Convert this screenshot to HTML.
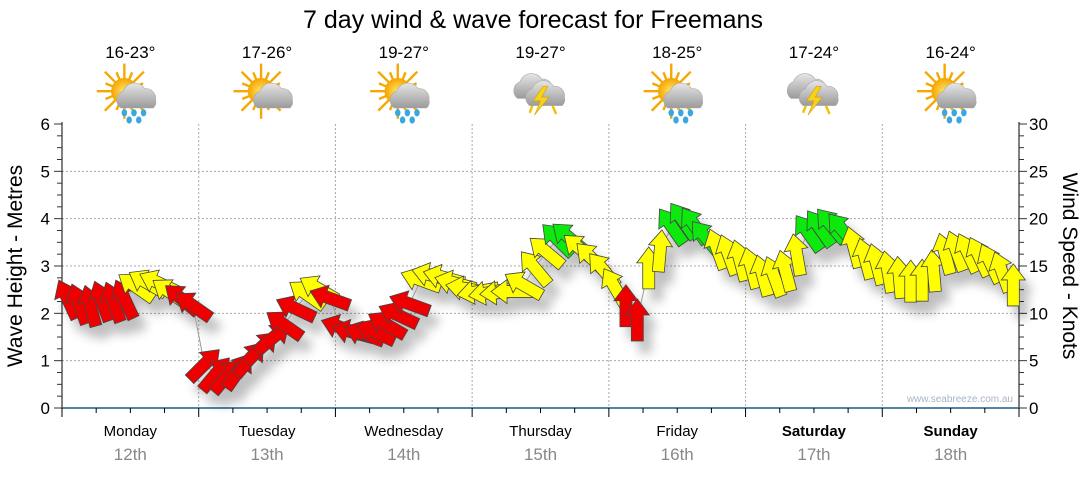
<!DOCTYPE html>
<html><head><meta charset="utf-8"><style>
html,body{margin:0;padding:0;background:#fff;}
svg text{font-family:"Liberation Sans",sans-serif;}
</style></head><body>
<svg id="chart" width="1080" height="475" viewBox="0 0 1080 475" xmlns="http://www.w3.org/2000/svg">
<defs>
<filter id="shadow" x="-50%" y="-50%" width="200%" height="200%">
<feGaussianBlur in="SourceAlpha" stdDeviation="5"/>
<feOffset dx="8" dy="12" result="b"/>
<feComponentTransfer><feFuncA type="linear" slope="0.25"/></feComponentTransfer>
<feMerge><feMergeNode/><feMergeNode in="SourceGraphic"/></feMerge>
</filter>
<radialGradient id="sunG" cx="50%" cy="50%" r="50%"><stop offset="0" stop-color="#ffe66a"/><stop offset="1" stop-color="#f5a400"/></radialGradient>
<linearGradient id="cloudG" x1="0" y1="0" x2="0" y2="1"><stop offset="0" stop-color="#e6e6e6"/><stop offset="1" stop-color="#9a9a9a"/></linearGradient>
</defs>
<text x="533" y="28" font-size="25" text-anchor="middle" fill="#000">7 day wind &amp; wave forecast for Freemans</text>
<g id="topg"></g>
<g id="grid"></g>
<g id="axes"></g>
<g id="series" filter="url(#shadow)"></g>
<text x="1013" y="402" font-size="10" text-anchor="end" fill="#a9b4c4">www.seabreeze.com.au</text>
</svg>
<script>
const days = ["Monday","Tuesday","Wednesday","Thursday","Friday","Saturday","Sunday"];
const dates = ["12th","13th","14th","15th","16th","17th","18th"];
const temps = ["16-23°","17-26°","19-27°","19-27°","18-25°","17-24°","16-24°"];
const icons = ["rain","cloud","rain","storm","rain","storm","rain"];
const waveTicks = [0,1,2,3,4,5,6];
const windTicks = [0,5,10,15,20,25,30];
const hours = [1,3,5,7,9,11,13,15,17,19,21,23,
25,27,29,31,33,35,37,39,41,43,45,47,
49,51,53,55,57,59,61,63,65,67,69,71,
73,75,77,79,81,83,85,87,89,91,93,95,
97,99,101,103,105,107,109,111,113,115,117,119,
121,123,125,127,129,131,133,135,137,139,141,143,
145,147,149,151,153,155,157,159,161,163,165,167];
const windSpeed = [11.5,11.0,10.8,11.3,11.2,11.5,12.8,13.2,13.2,12.2,11.5,10.8,
4.6,3.6,3.4,3.9,5.2,6.4,7.4,8.8,10.5,12.0,12.6,11.6,
8.5,8.0,7.8,8.0,8.8,9.8,11.0,13.5,14.0,13.8,13.2,12.6,
12.3,12.2,12.2,12.3,13.0,14.8,16.5,17.8,18.0,16.8,15.8,14.6,
12.8,10.8,9.3,14.8,16.6,19.2,19.8,19.3,18.0,16.8,16.2,15.6,
14.8,14.0,13.9,14.5,16.2,18.5,19.0,19.3,18.8,17.0,15.8,15.2,
14.4,13.8,13.4,13.5,14.5,16.3,16.6,16.4,16.0,15.3,14.4,13.0];
const windDir = [-25,-20,-15,-20,-20,-25,-55,-60,-65,-55,-50,-55,
45,40,40,35,40,45,50,-55,-65,-55,-60,-70,
-70,-75,-70,-65,-60,-65,-70,-70,-75,-75,-75,-80,
-100,-100,-95,-90,-60,-40,-50,-45,-50,-50,-45,-40,
-30,0,0,0,5,-35,-35,-35,-40,-20,-20,-15,
-15,-15,-20,-15,-10,-35,-35,-40,-40,-15,-15,-15,
-10,-5,0,0,-5,-15,-20,-25,-25,-25,-20,0];

const NS = "http://www.w3.org/2000/svg";
const X0=62, X1=1019, Y0=408, Y1=124;
const dayW=(X1-X0)/7;
function xH(h){return X0+h*(X1-X0)/168;}
function yWave(v){return Y0-v*(Y0-Y1)/6;}
function yWind(v){return Y0-v*(Y0-Y1)/30;}
function mk(tag,attrs,parent,txt){const e=document.createElementNS(NS,tag);for(const k in attrs)e.setAttribute(k,attrs[k]);if(txt!==undefined)e.textContent=txt;parent.appendChild(e);return e;}
const gridG=document.getElementById('grid'), axesG=document.getElementById('axes'), topG=document.getElementById('topg'), seriesG=document.getElementById('series');

function drawIcon(g,type){
  const cloud=(dx,dy,s)=>{const c=mk('g',{transform:`translate(${dx},${dy}) scale(${s})`},g);
    mk('path',{d:'M-14,8 a8,8 0 0 1 2,-14 a10,10 0 0 1 18,-2 a8,8 0 0 1 9,9 a7,7 0 0 1 -2,7 z',fill:'url(#cloudG)',stroke:'#aaa','stroke-width':0.5},c);};
  if(type!=='storm'){
    const sg=mk('g',{transform:'translate(-5,-4)'},g);
    for(let k=0;k<16;k++){const an=k*22.5*Math.PI/180;const r=k%2?17:23;
      mk('line',{x1:0,y1:0,x2:r*Math.sin(an),y2:-r*Math.cos(an),stroke:'#f5a800','stroke-width':2},sg);}
    mk('circle',{cx:0,cy:0,r:11,fill:'url(#sunG)'},sg);
    cloud(6,2,1);
    if(type==='rain'){[[-5,14],[3,14],[11,14],[-1,20],[7,20]].forEach(p=>mk('ellipse',{cx:p[0],cy:p[1],rx:2.3,ry:3,fill:'#3aa7e0'},g));}
  } else {
    cloud(-5,-6,1);
    mk('path',{d:'M-6,6 l-3,8 M10,8 l3,7',stroke:'#f2c200','stroke-width':2},g);
    cloud(5,0,1);
    mk('path',{d:'M2,-8 l-8,12 h6 l-5,12 l12,-15 h-6 l5,-9 z',fill:'#f6d21a',stroke:'#d9a000','stroke-width':0.5},g);
  }
}

waveTicks.forEach(v=>{ if(v>0&&v<6){const l=mk('line',{x1:X0,x2:X1,y1:yWave(v),y2:yWave(v),stroke:'#aaa','stroke-dasharray':'2,2'},gridG);

}});
for(let d=1;d<7;d++){const l=mk('line',{x1:X0+d*dayW,x2:X0+d*dayW,y1:Y1,y2:Y0,stroke:'#aaa','stroke-dasharray':'2,2'},gridG);

}

let ax=mk('line',{x1:X0,x2:X0,y1:Y1-2,y2:Y0+8,stroke:'#000'},axesG);


for(let i=0;i<=24;i++){const v=i/4;mk('line',{x1:X0-(i%4==0?8:5),x2:X0,y1:yWave(v),y2:yWave(v),stroke:'#333'},axesG);}
waveTicks.forEach(v=>{const t=mk('text',{x:X0-12,y:yWave(v)+6,'font-size':17,'text-anchor':'end',fill:'#000'},axesG,String(v));

});
let lt=mk('text',{x:0,y:0,'font-size':21,'text-anchor':'middle',transform:`translate(22,266) rotate(-90)`},axesG,'Wave Height - Metres');


ax=mk('line',{x1:X1,x2:X1,y1:Y1-2,y2:Y0+8,stroke:'#000'},axesG);


for(let i=0;i<=24;i++){const v=i*1.25;mk('line',{x1:X1,x2:X1+(i%4==0?8:5),y1:yWind(v),y2:yWind(v),stroke:'#333'},axesG);}
windTicks.forEach(v=>{const t=mk('text',{x:X1+10,y:yWind(v)+6,'font-size':17,fill:'#000'},axesG,String(v));

});
let rt=mk('text',{x:0,y:0,'font-size':21,'text-anchor':'middle',transform:`translate(1063,266) rotate(90)`},axesG,'Wind Speed - Knots');


ax=mk('line',{x1:X0,x2:X1,y1:Y0,y2:Y0,stroke:'#1b5a86','stroke-width':1.5},axesG);


for(let h=0;h<=168;h+=6){mk('line',{x1:xH(h),x2:xH(h),y1:Y0,y2:Y0+(h%24==0?9:5),stroke:'#000'},axesG);}
days.forEach((d,i)=>{const cx=X0+(i+0.5)*dayW;
const t=mk('text',{x:cx,y:436,'font-size':15,'text-anchor':'middle',fill:'#000','font-weight':i>=5?'bold':'normal'},axesG,d);


const t2=mk('text',{x:cx,y:460,'font-size':17,'text-anchor':'middle',fill:'#888'},axesG,dates[i]);


const t3=mk('text',{x:cx,y:58,'font-size':17,'text-anchor':'middle',fill:'#000'},topG,temps[i]);


const g=mk('g',{transform:`translate(${cx},96) scale(1.2)`},topG);


drawIcon(g,icons[i]);
});

let pts=hours.map((h,i)=>xH(h)+','+yWind(windSpeed[i])).join(' ');
const pl=mk('polyline',{points:pts,fill:'none',stroke:'#999','stroke-width':1},seriesG);


const arrowPath='M0,-21 L12,-5 L6,-5 L6,21 L-6,21 L-6,-5 L-12,-5 Z';
hours.forEach((h,i)=>{const v=windSpeed[i];
  const col=v>=17.5?'#11e811':(v>=12?'#ffff00':'#ee0000');
  const p=mk('path',{d:arrowPath,fill:col,stroke:'#444','stroke-width':0.8,transform:`translate(${xH(h)},${yWind(v)}) rotate(${windDir[i]})`},seriesG);
  
  
});
</script>
</body></html>
